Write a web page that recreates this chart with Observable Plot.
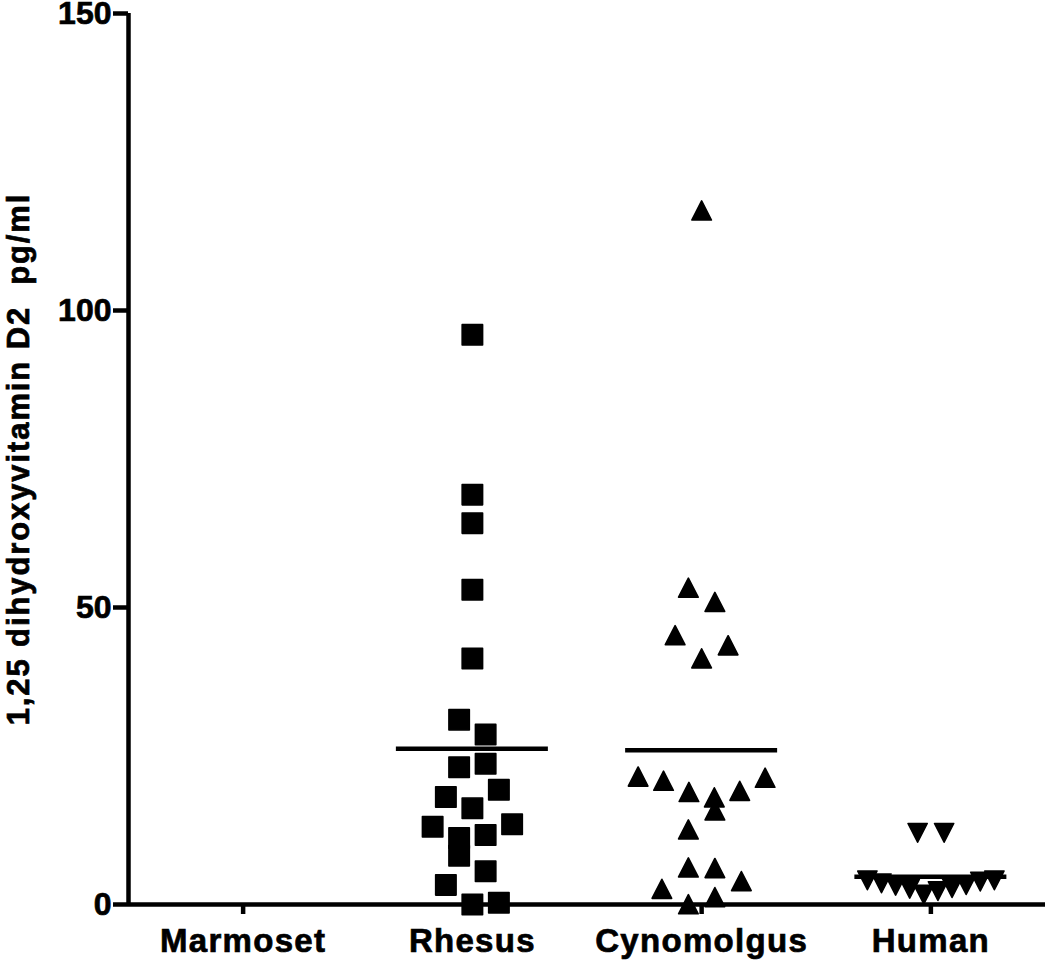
<!DOCTYPE html>
<html>
<head>
<meta charset="utf-8">
<script src="https://cdn.jsdelivr.net/npm/d3@7"></script>
<script src="https://cdn.jsdelivr.net/npm/@observablehq/plot@0.6"></script>
<style>
  html, body { margin: 0; padding: 0; background: #fff; }
  #chart svg { display: block; }
</style>
</head>
<body>
<div id="chart"></div>
<script>
// ---- data (order = left-to-right within each row) ----
const categories = ["Marmoset", "Rhesus", "Cynomolgus", "Human"];
const marmosetValues = [];
const rhesusValues = [3.3, 0, 0.3, 8.2, 5.6, 13.1, 11.2, 11.7, 13.5, 18.1, 16.2, 19.3,
                      23.1, 23.7, 31.1, 28.6, 41.4, 53.0, 64.2, 69.0, 95.9];
const cynomolgusValues = [2.6, 0, 1.2, 3.9, 6.2, 6.1, 12.6, 15.8, 21.5, 20.8, 18.9, 18.0, 19.1, 21.3,
                          45.3, 41.4, 43.6, 53.3, 50.9, 116.8];
const humanValues = [4.1, 3.6, 3.2, 2.7, 1.7, 2.3, 2.8, 3.3, 3.9, 4.1, 12.1, 12.1];
const yTicks = [0, 50, 100, 150];
const yLabel = "1,25 dihydroxyvitamin D2  pg/ml";

// ---- layout constants ----
const W = 1050, H = 965, ML = 128, MR = 5, MT = 13, MB = 61;
const unit = (W - ML - MR) / categories.length;   // px per category
const rowHeight = 4;        // value-units grouped into one row (≈ symbol height)
const step = 26.5;          // px between neighbours in a row
const maxSpan = 127;        // px max row width
const meanHalf = 76;        // px half-length of mean line

// Prism-like column scatter layout (deterministic)
function layout(values, ci) {
  const idx = d3.range(values.length).sort((a, b) => values[a] - values[b]);
  const rows = [];
  let cur = null;
  for (const i of idx) {
    if (!cur || values[i] >= cur.start + rowHeight) { cur = {start: values[i], members: []}; rows.push(cur); }
    cur.members.push(i);
  }
  const out = [];
  for (const row of rows) {
    const m = row.members.sort((a, b) => a - b);
    const n = m.length;
    const sp = n > 1 ? Math.min(step, maxSpan / (n - 1)) : 0;
    m.forEach((i, k) => {
      const off = (k - (n - 1) / 2) * sp;
      out.push({category: categories[ci], value: values[i], x: ci + 0.5 + off / unit});
    });
  }
  return out;
}

const groups = [marmosetValues, rhesusValues, cynomolgusValues, humanValues];
const pointsByGroup = groups.map((v, i) => layout(v, i));
const means = groups.map((v, i) => ({i, mean: d3.mean(v)})).filter(d => d.mean !== undefined);

// custom symbols (centred on bounding box)
const squareSym = {draw(ctx, size) { const r = Math.sqrt(size / Math.PI);
  ctx.moveTo(-r, -r); ctx.lineTo(r, -r); ctx.lineTo(r, r); ctx.lineTo(-r, r); ctx.closePath(); }};
const triUpSym = {draw(ctx, size) { const r = Math.sqrt(size / Math.PI);
  ctx.moveTo(0, -r); ctx.lineTo(r, r * 0.95); ctx.lineTo(-r, r * 0.95); ctx.closePath(); }};
const triDownSym = {draw(ctx, size) { const r = Math.sqrt(size / Math.PI);
  ctx.moveTo(0, r); ctx.lineTo(r, -r * 0.95); ctx.lineTo(-r, -r * 0.95); ctx.closePath(); }};
const circleSym = {draw(ctx, size) { const r = Math.sqrt(size / Math.PI);
  ctx.moveTo(r, 0); ctx.arc(0, 0, r, 0, 2 * Math.PI); }};
const symbols = [circleSym, squareSym, triUpSym, triDownSym];
const radii = [10, 10.2, 9.8, 9.6];

const dotMarks = pointsByGroup.map((pts, i) => Plot.dot(pts, {
  x: "x", y: "value", r: radii[i], symbol: symbols[i],
  fill: "black", stroke: "black", strokeWidth: 1.6, strokeLinejoin: "round"
}));

const chart = Plot.plot({
  width: W, height: H,
  marginLeft: ML, marginRight: MR, marginTop: MT, marginBottom: MB,
  style: {fontFamily: "'Liberation Sans', Arial, Helvetica, sans-serif", fontWeight: "bold", background: "white", color: "black"},
  x: {domain: [0, categories.length]},
  y: {domain: [0, 150]},
  marks: [
    Plot.axisY({ticks: yTicks, tickSize: 15, tickPadding: 2, fontSize: 32, label: null, strokeWidth: 4.5}),
    Plot.axisX({ticks: categories.map((c, i) => i + 0.5), tickFormat: t => categories[Math.floor(t)],
      tickSize: 10, tickPadding: 14, fontSize: 33, label: null, strokeWidth: 4.5}),
    Plot.ruleY(means, {y: "mean", x1: d => d.i + 0.5 - meanHalf / unit, x2: d => d.i + 0.5 + meanHalf / unit,
      stroke: "black", strokeWidth: 4.5}),
    ...dotMarks,
    Plot.ruleY([0], {stroke: "black", strokeWidth: 4.5}),
    Plot.ruleX([0], {stroke: "black", strokeWidth: 4.5}),
    Plot.text([yLabel], {frameAnchor: "left", dx: -109, rotate: -90, fontSize: 31, fontWeight: "bold",
      textAnchor: "middle", lineAnchor: "middle"})
  ]
});
document.getElementById("chart").appendChild(chart);
const svg = d3.select(chart);
svg.selectAll('[aria-label="x-axis tick label"] text').style("letter-spacing", "1.3px");
svg.selectAll('[aria-label="text"] text').style("letter-spacing", "1.9px");
svg.selectAll("text").style("stroke", "black").style("stroke-width", "0.7px").style("paint-order", "stroke");
</script>
</body>
</html>
